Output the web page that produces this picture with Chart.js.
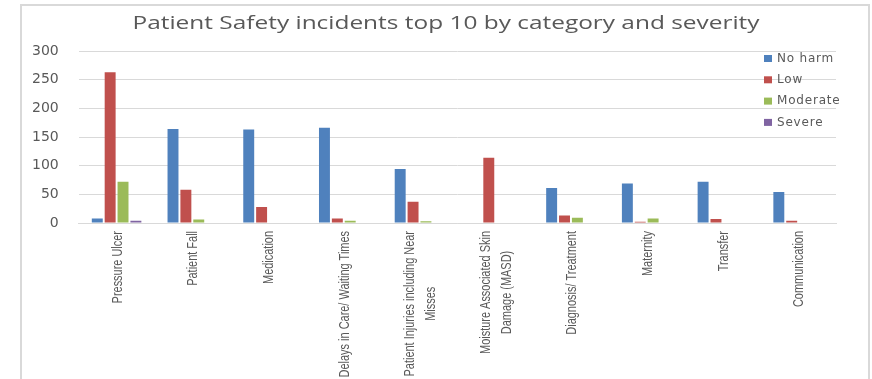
<!DOCTYPE html>
<html>
<head>
<meta charset="utf-8">
<script src="https://cdn.jsdelivr.net/npm/chart.js@4/dist/chart.umd.min.js"></script>
<style>
  html, body { margin: 0; padding: 0; background: #ffffff; }
  #wrap { position: relative; width: 872px; height: 379px; overflow: hidden; }
  #frame { position: absolute; left: 20px; top: 4px; width: 850px; height: 420px;
           border: 2px solid #d9d9d9; box-sizing: border-box; }
  #chart { position: absolute; left: 0; top: 0; }
</style>
</head>
<body>
<div id="wrap">
  <div id="frame"></div>
  <canvas id="chart" width="872" height="379"></canvas>
</div>
<script>
// Incident categories (multi-line entries wrap the same way on the axis)
const categories = [
  ['Pressure Ulcer'],
  ['Patient Fall'],
  ['Medication'],
  ['Delays in Care/ Waiting Times'],
  ['Patient Injuries including Near', 'Misses'],
  ['Moisture Associated Skin', 'Damage (MASD)'],
  ['Diagnosis/ Treatment'],
  ['Maternity'],
  ['Transfer'],
  ['Communication']
];

// Number of incidents per severity level
const noHarm   = [8, 164, 163, 166, 94, 0, 61, 69, 72, 54];
const low      = [263, 58, 28, 8, 37, 114, 13, 2, 7, 4];
const moderate = [72, 6, 0, 4, 3, 0, 9, 8, 0, 0];
const severe   = [4, 0, 0, 0, 0, 0, 0, 0, 0, 0];

const seriesNames = ['No harm', 'Low', 'Moderate', 'Severe'];
const yTicks = [0, 50, 100, 150, 200, 250, 300];

const chartTitle = 'Patient Safety incidents top 10 by category and severity';
const textColor = '#595959';
const colors = ['#4F81BD', '#C0504D', '#9BBB59', '#8064A2'];

// Title, legend and rotated category labels drawn on top of the chart
const decorations = {
  id: 'decorations',
  afterDraw(chart) {
    const ctx = chart.ctx;
    const xScale = chart.scales.x;
    const area = chart.chartArea;

    // title, widened to span the plot
    ctx.save();
    ctx.fillStyle = textColor;
    ctx.font = '18px "Open Sans", "DejaVu Sans", sans-serif';
    ctx.textAlign = 'center';
    ctx.textBaseline = 'alphabetic';
    const titleW = ctx.measureText(chartTitle).width;
    ctx.translate(446, 29);
    ctx.scale(627 / titleW, 1);
    ctx.fillText(chartTitle, 0, 0);
    ctx.restore();

    // legend (vertical list in the top-right of the plot)
    ctx.save();
    ctx.font = '12px "DejaVu Sans", sans-serif';
    ctx.letterSpacing = '0.8px';
    ctx.textBaseline = 'middle';
    ctx.textAlign = 'left';
    chart.data.datasets.forEach((ds, i) => {
      const cy = 58.5 + i * 21.3;
      ctx.fillStyle = ds.backgroundColor;
      ctx.fillRect(764, cy - 3.5, 8, 7);
      ctx.fillStyle = textColor;
      ctx.fillText(ds.label, 777, cy);
    });
    ctx.restore();

    // category labels, rotated, condensed and wrapped
    ctx.save();
    ctx.font = '15px "Liberation Sans", Arial, sans-serif';
    ctx.fillStyle = textColor;
    ctx.textAlign = 'center';
    ctx.textBaseline = 'middle';
    const squeeze = 0.73;
    const pitch = 21;
    categories.forEach((lines, i) => {
      const x = xScale.getPixelForValue(i);
      const maxW = Math.max(...lines.map(l => ctx.measureText(l).width));
      ctx.save();
      ctx.translate(x + 1, area.bottom + 8);
      ctx.rotate(-Math.PI / 2);
      ctx.scale(squeeze, 1);
      lines.forEach((line, j) => {
        const off = (j - (lines.length - 1) / 2) * pitch;
        ctx.fillText(line, -maxW / 2, off);
      });
      ctx.restore();
    });
    ctx.restore();
  }
};

const seriesData = [noHarm, low, moderate, severe];

new Chart(document.getElementById('chart'), {
  type: 'bar',
  data: {
    labels: categories.map(c => c.join(' ')),
    datasets: seriesData.map((values, i) => ({
      label: seriesNames[i],
      data: values,
      backgroundColor: colors[i],
      borderWidth: 0,
      barPercentage: 0.85,
      categoryPercentage: 0.68
    }))
  },
  options: {
    responsive: false,
    animation: false,
    layout: { padding: { left: 12, right: 36, top: 51, bottom: 156 } },
    plugins: {
      legend: { display: false },
      title: { display: false },
      tooltip: { enabled: false }
    },
    scales: {
      x: {
        ticks: { display: false },
        grid: { display: false, drawTicks: false },
        border: { display: true, color: '#d9d9d9', width: 1 }
      },
      y: {
        min: 0,
        max: 300,
        afterBuildTicks(scale) { scale.ticks = yTicks.map(v => ({ value: v })); },
        ticks: {
          color: textColor,
          padding: 20,
          font: { family: '"DejaVu Sans", sans-serif', size: 14 }
        },
        grid: { color: '#d9d9d9', lineWidth: 1, drawTicks: false },
        border: { display: false }
      }
    }
  },
  plugins: [decorations]
});
</script>
</body>
</html>
